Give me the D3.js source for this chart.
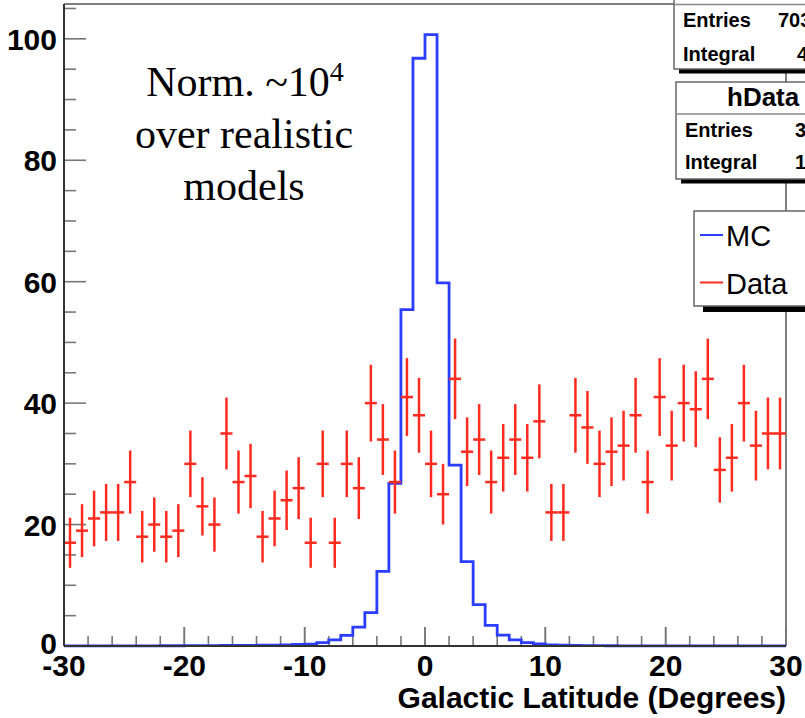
<!DOCTYPE html>
<html>
<head>
<meta charset="utf-8">
<script src="https://cdn.jsdelivr.net/npm/d3@7"></script>
<style>
  html, body { margin: 0; padding: 0; background: #fff; }
  svg { display: block; }
  .lbl { font-family: "Liberation Sans", Arial, Helvetica, sans-serif; font-weight: bold; fill: #000; }
  .note { font-family: "Liberation Serif", "Times New Roman", serif; fill: #000; }
</style>
</head>
<body>
<svg id="chart" width="805" height="718"></svg>
<script>
// Histogram binning: 60 bins of 1 degree from -30 to +30
const binStart = -30;
const binWidth = 1;

// Observed counts per bin (drawn with sqrt(N) error bars)
const dataCounts = [
  17, 19, 21, 22, 22, 27, 18, 20, 18, 19,
  30, 23, 20, 35, 27, 28, 18, 21, 24, 26,
  17, 30, 17, 30, 26, 40, 34, 27, 41, 38,
  30, 25, 44, 32, 34, 27, 31, 34, 31, 37,
  22, 22, 38, 36, 30, 32, 33, 38, 27, 41,
  33, 40, 39, 44, 29, 31, 40, 33, 35, 35
];

// Simulated distribution per bin
const mcValues = [
  0.01, 0.01, 0.01, 0.02, 0.02, 0.02, 0.03, 0.03, 0.04, 0.04,
  0.05, 0.06, 0.07, 0.08, 0.09, 0.10, 0.12, 0.15, 0.20, 0.25,
  0.30, 0.55, 1.0, 1.75, 3.1, 5.5, 12.3, 26.8, 55.4, 96.8,
  100.7, 59.8, 29.8, 13.9, 6.8, 3.4, 1.8, 1.0, 0.55, 0.33,
  0.20, 0.12, 0.09, 0.07, 0.05, 0.04, 0.03, 0.03, 0.02, 0.02,
  0.02, 0.01, 0.01, 0.01, 0.01, 0.01, 0.01, 0.01, 0.01, 0.01
];

const xTicks = [-30, -20, -10, 0, 10, 20, 30];
const yTicks = [0, 20, 40, 60, 80, 100];
const xTitle = "Galactic Latitude (Degrees)";
const noteLines = ["Norm. ~10", "over realistic", "models"];
const legendItems = [
  { label: "MC", color: "#2b3dff" },
  { label: "Data", color: "#ff2b1f" }
];

const svg = d3.select("#chart");
const plot = { left: 64, right: 786, top: 4, bottom: 646 };
const yMax = d3.max(mcValues) * 1.05;

const x = d3.scaleLinear().domain([-30, 30]).range([plot.left, plot.right]);
const y = d3.scaleLinear().domain([0, yMax]).range([plot.bottom, plot.top]);

// Frame (top and right edges)
svg.append("path")
  .attr("d", `M${plot.left},${plot.top}H${plot.right}V${plot.bottom}`)
  .attr("fill", "none").attr("stroke", "#555").attr("stroke-width", 1.5);

// Y axis ticks: major every 20, minor every 5
const yMinor = d3.range(0, yMax, 5);
svg.append("g").selectAll("line").data(yMinor).join("line")
  .attr("x1", plot.left).attr("x2", d => plot.left + (d % 20 === 0 ? 22 : 12))
  .attr("y1", d => y(d)).attr("y2", d => y(d))
  .attr("stroke", "#777").attr("stroke-width", 1.6);

// X axis ticks: major every 10, minor every 2
const xMinor = d3.range(-30, 30.01, 2).concat([-20, -10, 0, 10, 20]);
svg.append("g").selectAll("line").data(xMinor).join("line")
  .attr("x1", d => x(d)).attr("x2", d => x(d))
  .attr("y1", plot.bottom).attr("y2", d => plot.bottom - (d % 10 === 0 ? 19 : 10))
  .attr("stroke", "#777").attr("stroke-width", 1.6);

// MC histogram as a step outline
const mcPts = [];
mcValues.forEach((v, i) => {
  const x0 = binStart + i * binWidth;
  mcPts.push([x0, v], [x0 + binWidth, v]);
});
svg.append("path")
  .attr("d", d3.line().x(d => x(d[0])).y(d => y(d[1]))(mcPts))
  .attr("fill", "none").attr("stroke", legendItems[0].color).attr("stroke-width", 2.8);

// Data points with sqrt(N) vertical error bars and half-bin horizontal bars
const gData = svg.append("g").attr("stroke", legendItems[1].color).attr("stroke-width", 2.5);
dataCounts.forEach((n, i) => {
  const c = binStart + (i + 0.5) * binWidth;
  const e = Math.sqrt(n);
  gData.append("line")
    .attr("x1", x(c)).attr("x2", x(c))
    .attr("y1", y(n - e)).attr("y2", y(n + e));
  gData.append("line")
    .attr("x1", x(c - binWidth / 2)).attr("x2", x(c + binWidth / 2))
    .attr("y1", y(n)).attr("y2", y(n));
});

// Axis lines
svg.append("line").attr("x1", plot.left).attr("x2", plot.left)
  .attr("y1", plot.top).attr("y2", plot.bottom).attr("stroke", "#333").attr("stroke-width", 2);
svg.append("line").attr("x1", plot.left).attr("x2", plot.right)
  .attr("y1", plot.bottom).attr("y2", plot.bottom).attr("stroke", "#333").attr("stroke-width", 2);

// Tick labels
svg.append("g").selectAll("text").data(yTicks).join("text")
  .attr("class", "lbl").attr("x", 57).attr("y", d => y(d) + (d === 0 ? 8 : 11))
  .attr("text-anchor", "end").attr("font-size", 30).text(d => d);
svg.append("g").selectAll("text").data(xTicks).join("text")
  .attr("class", "lbl").attr("x", d => x(d)).attr("y", 676)
  .attr("text-anchor", "middle").attr("font-size", 30).text(d => d);

svg.append("text").attr("class", "lbl")
  .attr("x", plot.right).attr("y", 708).attr("text-anchor", "end")
  .attr("font-size", 30).text(xTitle);

// Normalisation note
const note = svg.append("g").attr("class", "note");
const n1 = note.append("text").attr("x", 245).attr("y", 96).attr("text-anchor", "middle").attr("font-size", 42);
n1.append("tspan").text(noteLines[0]);
n1.append("tspan").attr("font-size", 28).attr("dy", -15).text("4");
note.append("text").attr("x", 244).attr("y", 148).attr("text-anchor", "middle").attr("font-size", 42).text(noteLines[1]);
note.append("text").attr("x", 244).attr("y", 200).attr("text-anchor", "middle").attr("font-size", 42).text(noteLines[2]);

// Statistics boxes (partly beyond the right edge)
function statBox(left, top, bottom, title, rows, sep) {
  const g = svg.append("g");
  g.append("rect").attr("x", left + 5).attr("y", bottom).attr("width", 805 - left).attr("height", 4.5).attr("fill", "#000");
  g.append("rect").attr("x", left).attr("y", top).attr("width", 820 - left).attr("height", bottom - top)
    .attr("fill", "#fff").attr("stroke", "#666").attr("stroke-width", 1.5);
  g.append("line").attr("x1", left).attr("x2", 805).attr("y1", sep).attr("y2", sep)
    .attr("stroke", "#888").attr("stroke-width", 1.5);
  if (title) {
    g.append("text").attr("class", "lbl").attr("x", 727).attr("y", sep - 8).attr("font-size", 26).text(title);
  }
  rows.forEach(r => {
    g.append("text").attr("class", "lbl").attr("x", left + 9).attr("y", r.y).attr("font-size", 20).text(r.name);
    g.append("text").attr("class", "lbl").attr("x", r.vx).attr("y", r.y).attr("font-size", 20).text(r.value);
  });
}
statBox(674, -30, 69, null, [
  { name: "Entries", value: "703", vx: 778, y: 27 },
  { name: "Integral", value: "4", vx: 797, y: 61 }
], 4.5);
statBox(676, 82, 179, "hData", [
  { name: "Entries", value: "3", vx: 795, y: 137 },
  { name: "Integral", value: "1", vx: 795, y: 169 }
], 114);

// Legend
const lg = svg.append("g");
lg.append("rect").attr("x", 703).attr("y", 306).attr("width", 110).attr("height", 6).attr("fill", "#000");
lg.append("rect").attr("x", 694).attr("y", 211).attr("width", 130).attr("height", 95)
  .attr("fill", "#fff").attr("stroke", "#666").attr("stroke-width", 1.5);
legendItems.forEach((d, i) => {
  const cy = 235 + i * 47.5;
  lg.append("line").attr("x1", 700).attr("x2", 723).attr("y1", cy).attr("y2", cy)
    .attr("stroke", d.color).attr("stroke-width", 2);
  lg.append("text").attr("class", "lbl").attr("x", 726).attr("y", cy + 11)
    .attr("font-size", 29).style("font-weight", "normal").text(d.label);
});
</script>
</body>
</html>
